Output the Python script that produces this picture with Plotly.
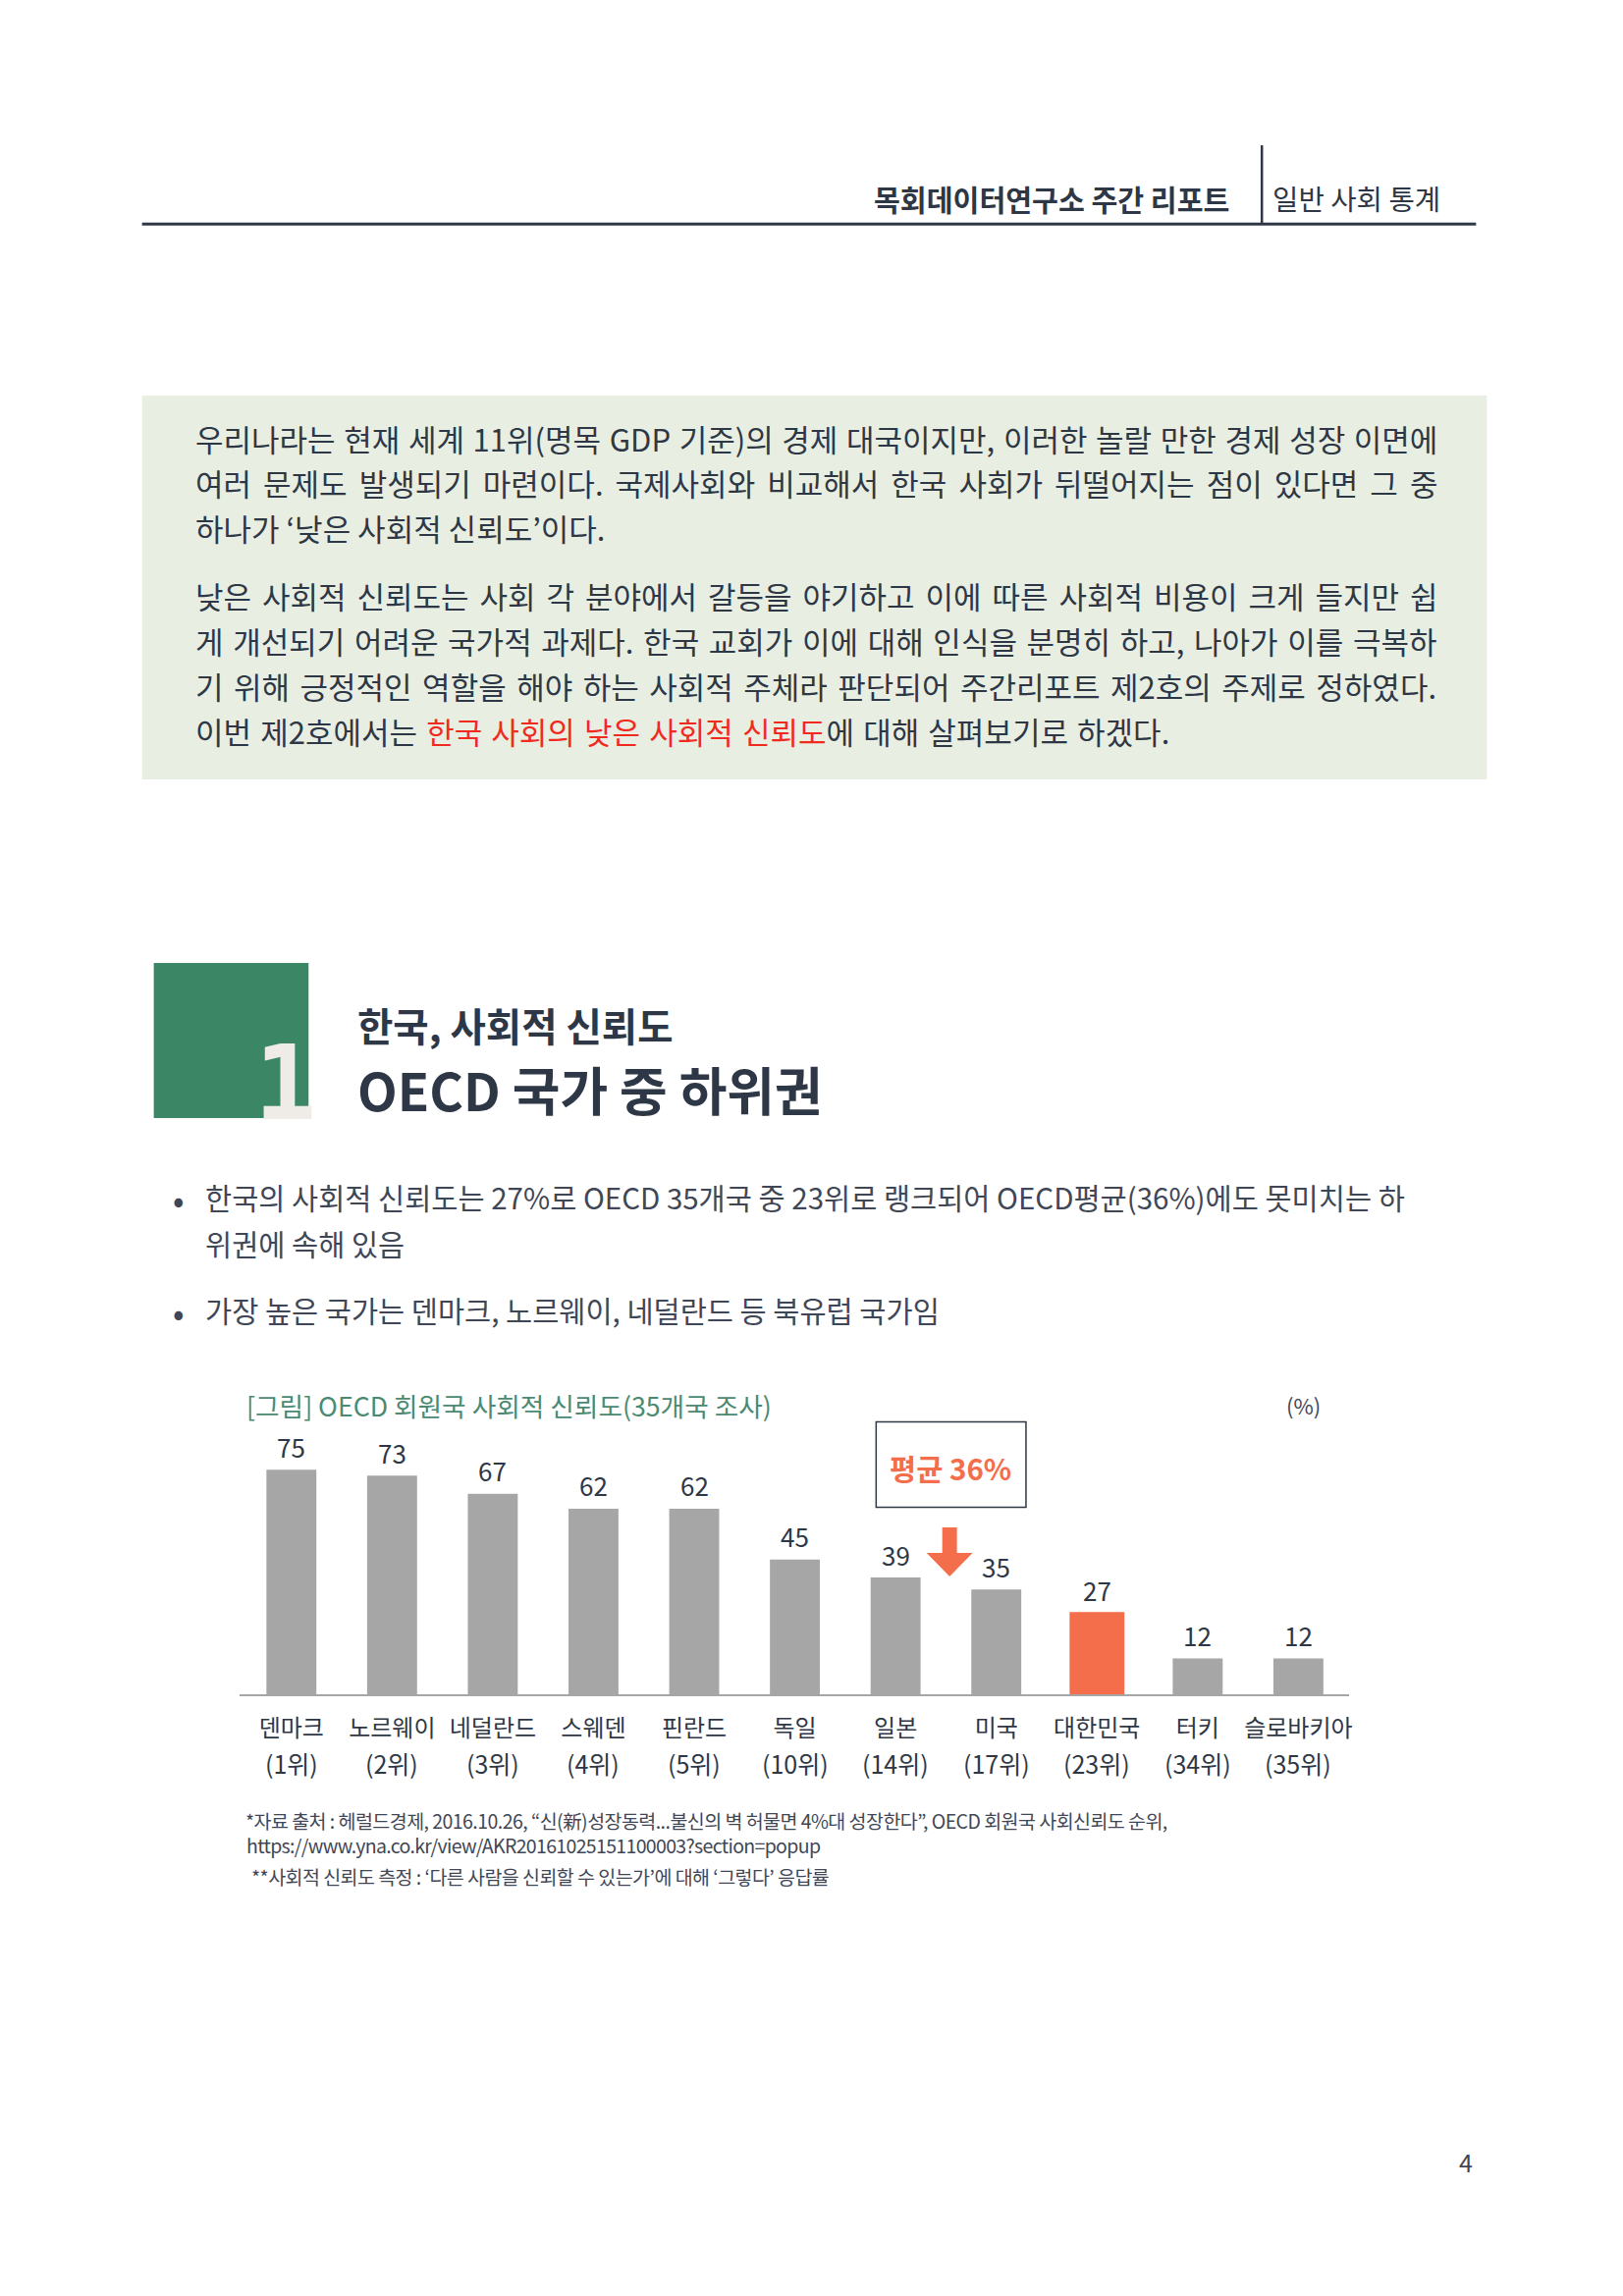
import plotly.graph_objects as go

W, H = 1653, 2339
FONT = "Noto Sans CJK KR"
INK = "#2E3745"
SOFT = "#3F4756"
ORANGE = "#F46E4B"
GREY = "#A6A6A6"

countries = ["덴마크", "노르웨이", "네덜란드", "스웨덴", "핀란드", "독일", "일본", "미국", "대한민국", "터키", "슬로바키아"]
ranks = ["(1위)", "(2위)", "(3위)", "(4위)", "(5위)", "(10위)", "(14위)", "(17위)", "(23위)", "(34위)", "(35위)"]
trust = [75, 73, 67, 62, 62, 45, 39, 35, 27, 12, 12]
highlight = "대한민국"

intro_lines = [
    ("우리나라는 현재 세계 11위(명목 GDP 기준)의 경제 대국이지만, 이러한 놀랄 만한 경제 성장 이면에", 446, 1.7),
    ("여러 문제도 발생되기 마련이다. 국제사회와 비교해서 한국 사회가 뒤떨어지는 점이 있다면 그 중", 491.5, 5.1),
    ("하나가 ‘낮은 사회적 신뢰도’이다.", 537.5, 0),
    ("낮은 사회적 신뢰도는 사회 각 분야에서 갈등을 야기하고 이에 따른 사회적 비용이 크게 들지만 쉽", 606, 4.0),
    ("게 개선되기 어려운 국가적 과제다. 한국 교회가 이에 대해 인식을 분명히 하고, 나아가 이를 극복하", 652.5, 2.7),
    ("기 위해 긍정적인 역할을 해야 하는 사회적 주체라 판단되어 주간리포트 제2호의 주제로 정하였다.", 698.5, 3.55),
    ("이번 제2호에서는 <span style=\"color:#F02A1E\">한국 사회의 낮은 사회적 신뢰도</span>에 대해 살펴보기로 하겠다.", 744.5, 2.2),
]
bullet_lines = [
    ("한국의 사회적 신뢰도는 27%로 OECD 35개국 중 23위로 랭크되어 OECD평균(36%)에도 못미치는 하", 1219),
    ("위권에 속해 있음", 1266),
    ("가장 높은 국가는 덴마크, 노르웨이, 네덜란드 등 북유럽 국가임", 1334),
]
notes = [
    ("*자료 출처 : 헤럴드경제, 2016.10.26, “신(新)성장동력...불신의 벽 허물면 4%대 성장한다”, OECD 회원국 사회신뢰도 순위,", 250, 1854, -0.54),
    ("https://www.yna.co.kr/view/AKR20161025151100003?section=popup", 251, 1879, -0.66),
    ("**사회적 신뢰도 측정 : ‘다른 사람을 신뢰할 수 있는가’에 대해 ‘그렇다’ 응답률", 256, 1911.5, -0.54),
]


def X(p):
    return p / W


def Y(p):
    return 1 - p / H


colors = [ORANGE if c == highlight else GREY for c in countries]
widths = [0.515 if c == highlight else 0.496 for c in countries]
lines = [3 if c == highlight else 0 for c in countries]

fig = go.Figure(
    go.Bar(
        x=countries,
        y=trust,
        width=widths,
        marker=dict(color=colors, line=dict(color=colors, width=lines)),
        cliponaxis=False,
        hoverinfo="skip",
    )
)

PLOT_TOP, BASE = 1460, 1726
UNIT = 3.05


def label(text, x, y, size, color=INK, anchor="left", weight=400, family=FONT):
    return dict(
        text=text, xref="paper", yref="paper", x=X(x), y=Y(y), xanchor=anchor, yanchor="middle",
        showarrow=False, borderpad=0, align=anchor,
        font=dict(family=family, size=size, color=color, weight=weight),
    )


ann = []
ann.append(label("목회데이터연구소 주간 리포트", 1256, 202, 29.2, anchor="right", weight=700))
ann.append(label("일반 사회 통계", 1298, 202, 28.7))
for t, y, ws in intro_lines:
    ann.append(label(f'<span style="word-spacing:{ws}px">{t}</span>', 198, y, 31))
ann.append(label("1", 291.3, 1104, 105, color="#EFEBE7", anchor="center", weight=700, family="DejaVu Sans Mono"))
ann.append(label("한국, 사회적 신뢰도", 364, 1043, 39.5, weight=700))
ann.append(label("OECD 국가 중 하위권", 364, 1109, 52.9, weight=700))
for t, y in bullet_lines:
    ann.append(label(t, 208.5, y, 29.5, color=SOFT))
ann.append(label("•", 182.7, 1220, 34, color=SOFT, anchor="center"))
ann.append(label("•", 182.7, 1335.5, 34, color=SOFT, anchor="center"))
ann.append(label("[그림] OECD 회원국 사회적 신뢰도(35개국 조사)", 250.5, 1431, 26.7, color="#4A8A72"))
ann.append(label("(%)", 1331, 1430.5, 22, color=SOFT, anchor="center"))
ann.append(label("평균 36%", 970, 1495, 29.5, color=ORANGE, anchor="center", weight=700))
for c, v in zip(countries, trust):
    ann.append(dict(text=str(v), x=c, y=v, xref="x", yref="y", yanchor="middle", xanchor="center", yshift=24,
                    showarrow=False, borderpad=0, font=dict(family=FONT, size=26, color=INK)))
for c, r in zip(countries, ranks):
    ann.append(dict(text=r, x=c, xref="x", yref="paper", y=Y(1795.5), yanchor="middle", xanchor="center",
                    showarrow=False, borderpad=0, font=dict(family=FONT, size=25, color=INK)))
for t, x, y, ls in notes:
    ann.append(label(f'<span style="letter-spacing:{ls}px">{t}</span>', x, y, 19.5, color=SOFT))
ann.append(label("4", 1497, 2202, 25, anchor="center", color=SOFT))

shapes = [
    dict(type="rect", xref="paper", yref="paper", x0=X(145), x1=X(1518), y0=Y(403), y1=Y(794),
         fillcolor="#E8EFE2", line_width=0, layer="below"),
    dict(type="line", xref="paper", yref="paper", x0=X(145), x1=X(1507), y0=Y(228.3), y1=Y(228.3),
         line=dict(color=INK, width=3)),
    dict(type="line", xref="paper", yref="paper", x0=X(1288.3), x1=X(1288.3), y0=Y(148), y1=Y(228.3),
         line=dict(color=INK, width=2.5)),
    dict(type="rect", xref="paper", yref="paper", x0=X(157), x1=X(315), y0=Y(981), y1=Y(1139),
         fillcolor="#3B8665", line_width=0, layer="below"),
    dict(type="rect", xref="paper", yref="paper", x0=X(894.5), x1=X(1047.5), y0=Y(1448.5), y1=Y(1535.5),
         fillcolor="rgba(0,0,0,0)", line=dict(color=INK, width=1.5)),
    dict(type="path", xref="paper", yref="paper", fillcolor=ORANGE, line_width=0,
         path="M {} {} L {} {} L {} {} L {} {} L {} {} L {} {} L {} {} Z".format(
             X(962), Y(1556), X(977), Y(1556), X(977), Y(1582), X(993), Y(1582),
             X(969.5), Y(1606), X(946), Y(1582), X(962), Y(1582))),
]

fig.update_layout(
    width=W, height=H, autosize=False, showlegend=False,
    margin=dict(l=0, r=0, t=0, b=0),
    paper_bgcolor="white", plot_bgcolor="white",
    xaxis=dict(domain=[X(245), X(1377)], range=[-0.5107, 10.5], type="category",
               showline=True, linecolor=GREY, linewidth=1.5, showgrid=False, zeroline=False,
               ticks="", ticklabelstandoff=12, tickfont=dict(family=FONT, size=24, color=INK),
               fixedrange=True, anchor="y"),
    yaxis=dict(domain=[Y(BASE), Y(PLOT_TOP)], range=[0, (BASE - PLOT_TOP) / UNIT], visible=False, fixedrange=True),
    annotations=ann, shapes=shapes,
)

fig.write_html("out.html", config={"displayModeBar": False},
               post_script="document.body.style.margin='0';document.body.style.overflow='hidden';")
